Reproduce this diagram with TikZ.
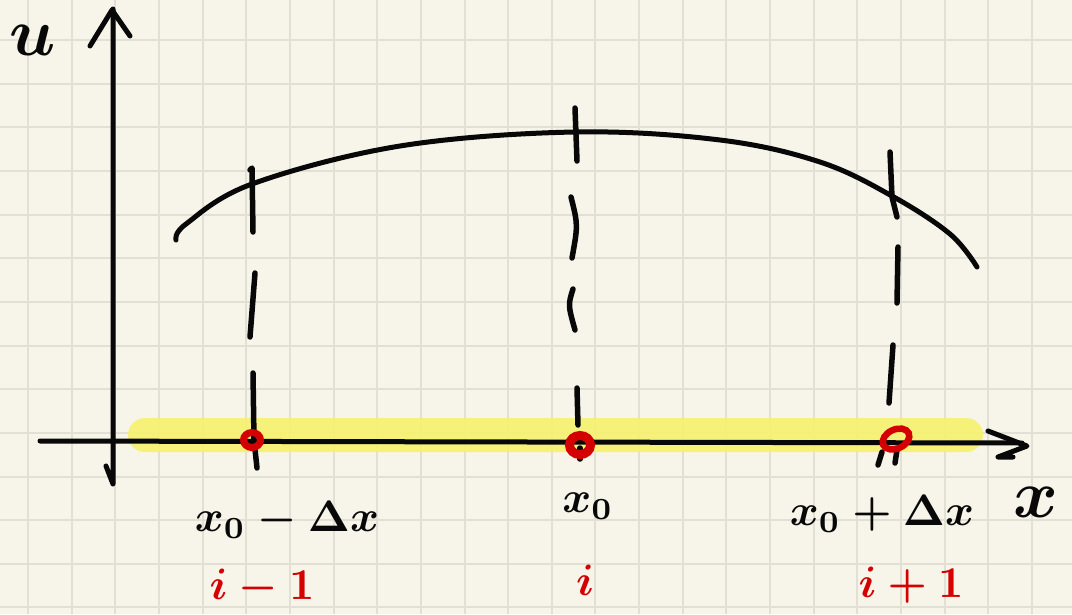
\documentclass[tikz,border=0pt]{standalone}
\definecolor{paper}{RGB}{247,245,233}
\definecolor{gridc}{RGB}{226,224,212}
\definecolor{hl}{RGB}{245,241,112}
\definecolor{pen}{RGB}{8,8,8}
\definecolor{redpen}{RGB}{212,0,0}
\begin{document}
\begin{tikzpicture}[x=1pt,y=-1pt,
  gridline/.style={gridc,line width=2pt},
  ink/.style={pen,line width=5pt,line cap=round,line join=round},
  dashseg/.style={pen,line width=5.5pt,line cap=round,line join=round},
  redring/.style={redpen,line width=7pt},
  txt/.style={inner sep=0pt,font=\boldmath},
  lab/.style={txt,text=pen,scale=4.4},
  biglab/.style={txt,text=pen,scale=6.8},
  redlab/.style={txt,text=redpen,scale=4.4}
]
\fill[paper] (0,0) rectangle (1072,614);
\useasboundingbox (0,0) rectangle (1072,614);
\foreach \i in {0,...,24} \draw[gridline] ({28+43.65*\i},0) -- ({28+43.65*\i},614);
\foreach \j in {0,...,13} \draw[gridline] (0,{40+43.65*\j}) -- (1072,{40+43.65*\j});
% highlight band
\fill[hl,opacity=0.92,rounded corners=17pt] (128,418) rectangle (983,452);
% axes
\coordinate (yb) at (113,484);
\coordinate (yt) at (113,9);
\coordinate (xa) at (40,441);
\coordinate (xb) at (1022,443);
\draw[ink] (106,466) -- (yb) -- (yt);
\draw[ink] (90,46) -- (112,10) -- (130,36);
\draw[ink] (xa) -- (xb);
\draw[ink] (988,431) -- (1027,446) -- (998,457) -- (1013,457);
% curve
\draw[ink] plot[smooth,tension=0.6] coordinates {(176,240) (186,224) (252,184) (400,146) (575,132) (720,140) (820,162) (892,196) (950,234) (977,267)};
% dashed verticals
\draw[dashseg] (250,170) -- (252,168) -- (253,232);
\draw[dashseg] (255,273) -- (250,337);
\draw[dashseg] (253,373) -- (254,440) -- (257,468);
\draw[dashseg] (575,108) -- (577,161);
\draw[dashseg] (571,197) .. controls (578,225) .. (572,258);
\draw[dashseg] (573,289) .. controls (568,305) .. (575,330);
\draw[dashseg] (577,388) -- (578,425);
\draw[dashseg] (580,448) -- (580,459);
\draw[dashseg] (890,152) -- (892,197) -- (897,217);
\draw[dashseg] (898,247) -- (897,303);
\draw[dashseg] (893,345) -- (889,403);
\draw[dashseg] (878,465) -- (882,452);
\draw[dashseg] (895,463) -- (897,450);
% red points
\coordinate (p1) at (252,440);
\coordinate (p2) at (580,445);
\coordinate (p3) at (896,439);
\draw[redring] (p1) ellipse [x radius=8.5pt, y radius=7.5pt];
\draw[redring,line width=9pt] (p2) ellipse [x radius=10.5pt, y radius=9.5pt];
\draw[redring,line width=6.5pt,rotate around={25:(p3)}] (p3) ellipse [x radius=14pt, y radius=9.5pt];
% labels
\node[biglab] (ul) at (33,40) {$u$};
\node[lab] (lm) at (287,520) {$x_0-\Delta x$};
\node[lab] (l0) at (588,506) {$x_0$};
\node[lab] (lp) at (882,514) {$x_0+\Delta x$};
\node[biglab] (xl) at (1036,502) {$x$};
\node[redlab] (r1) at (262,587) {$i-1$};
\node[redlab] (r0) at (585,580) {$i$};
\node[redlab] (r2) at (911,585) {$i+1$};
\end{tikzpicture}
\end{document}
